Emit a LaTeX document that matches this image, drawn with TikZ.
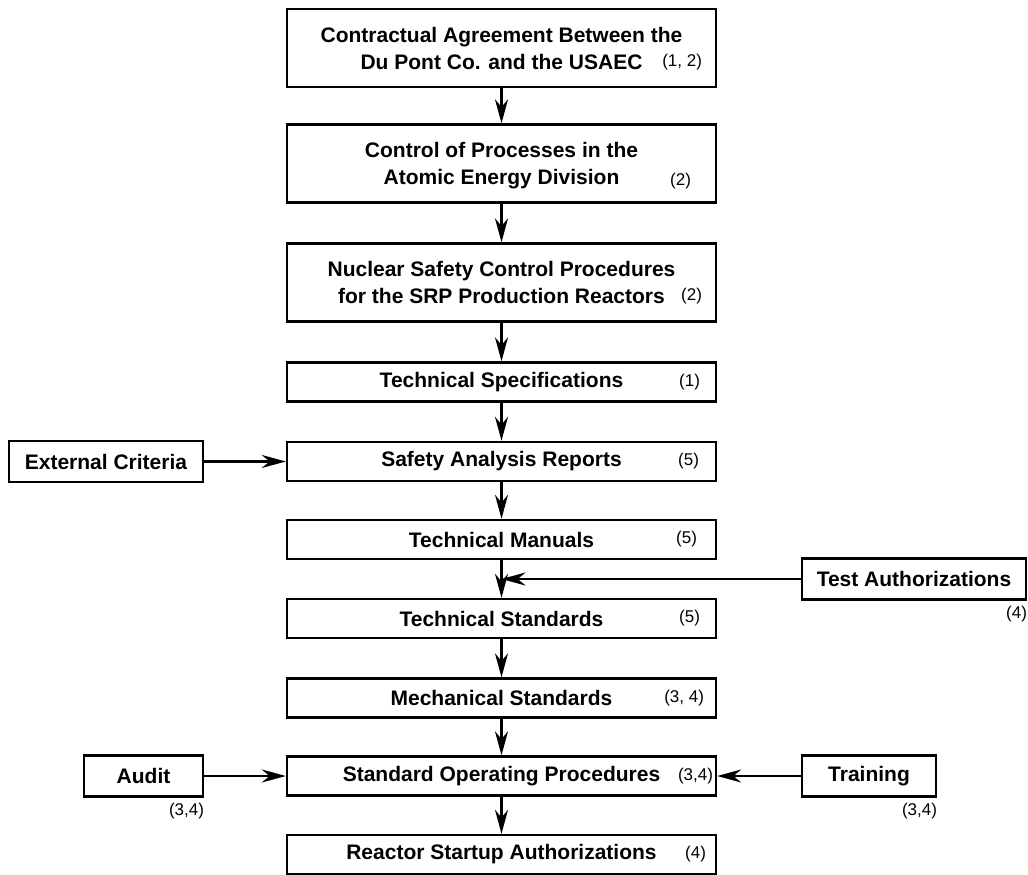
\documentclass[tikz,border=0pt]{standalone}
\usepackage{fontspec}
\setmainfont{Liberation Sans}
\usetikzlibrary{arrows.meta}

\begin{document}
\begin{tikzpicture}[x=1pt, y=-1pt, >={Stealth[length=24pt, width=13pt]},
        box/.style={draw, line width=2.4pt, minimum width=429pt, minimum height=39pt, inner sep=0pt, align=center, font=\fontsize{21}{27}\selectfont\bfseries},
        tallbox/.style={box, minimum height=78pt},
        sidebox/.style={draw, line width=2.4pt, minimum height=41pt, inner sep=0pt, font=\fontsize{21}{27}\selectfont\bfseries},
        ref/.style={inner sep=0pt, font=\fontsize{17}{18}\selectfont},
        link/.style={->, line width=2.6pt}]
        \useasboundingbox (0,0) rectangle (1028,875);
        \node[tallbox] (contract) at (501.5,48)    {Contractual Agreement Between the\\Du Pont Co. and the USAEC};
        \node[tallbox, text depth=-8pt] (control) at (501.5,163.5) {Control of Processes in the\\Atomic Energy Division};
        \node[tallbox] (nsc)      at (501.5,282.5) {Nuclear Safety Control Procedures\\for the SRP Production Reactors};
        \node[box] (techspec) at (501.5,382)   {Technical Specifications};
        \node[box] (sar)      at (501.5,461.5) {Safety Analysis Reports};
        \node[box] (techman)  at (501.5,539.5) {Technical Manuals};
        \node[box] (techstd)  at (501.5,618.5) {Technical Standards};
        \node[box] (mechstd)  at (501.5,698)   {Mechanical Standards};
        \node[box] (sop)      at (501.5,776)   {Standard Operating Procedures};
        \node[box] (startup)  at (501.5,854.5) {Reactor Startup Authorizations};
        \node[ref, anchor=east] (contract-ref) at ([xshift=-15pt, yshift=-14pt]contract.east) {(1, 2)};
        \node[ref, anchor=east] (control-ref)  at ([xshift=-26pt, yshift=-18pt]control.east)  {(2)};
        \node[ref, anchor=east] (nsc-ref)      at ([xshift=-15pt, yshift=-14pt]nsc.east)      {(2)};
        \node[ref, anchor=east] (techspec-ref) at ([xshift=-17pt]techspec.east) {(1)};
        \node[ref, anchor=east] (sar-ref)      at ([xshift=-18pt]sar.east)      {(5)};
        \node[ref, anchor=east] (techman-ref)  at ([xshift=-20pt]techman.east)  {(5)};
        \node[ref, anchor=east] (techstd-ref)  at ([xshift=-17pt]techstd.east)  {(5)};
        \node[ref, anchor=east] (mechstd-ref)  at ([xshift=-13pt]mechstd.east)  {(3, 4)};
        \node[ref, anchor=east] (sop-ref)      at ([xshift=-4pt]sop.east)       {(3,4)};
        \node[ref, anchor=east] (startup-ref)  at ([xshift=-11pt]startup.east)  {(4)};
        \node[sidebox, minimum width=194pt] (extcrit)  at (106,461.5) {External Criteria};
        \node[sidebox, minimum width=224pt] (testauth) at (914,579)   {Test Authorizations};
        \node[sidebox, minimum width=119pt] (audit)    at (143.5,776) {Audit};
        \node[sidebox, minimum width=134pt] (training) at (869,776)   {Training};
        \node[ref, anchor=north east] (testauth-ref) at ([yshift=-5pt]testauth.south east) {(4)};
        \node[ref, anchor=north east] (audit-ref)    at ([yshift=-5pt]audit.south east)    {(3,4)};
        \node[ref, anchor=north east] (training-ref) at ([yshift=-5pt]training.south east) {(3,4)};
        \foreach \from/\to in {contract/control, control/nsc, nsc/techspec, techspec/sar, sar/techman,
                techman/techstd, techstd/mechstd, mechstd/sop, sop/startup} {
            \draw[link] (\from) -- (\to);
        }
        \coordinate (merge) at (techman.south |- testauth.west);
        \draw[link] (testauth) -- (merge);
        \draw[link] (extcrit) -- (sar);
        \draw[link] (audit) -- (sop);
        \draw[link] (training) -- (sop);
    \end{tikzpicture}
\end{document}
